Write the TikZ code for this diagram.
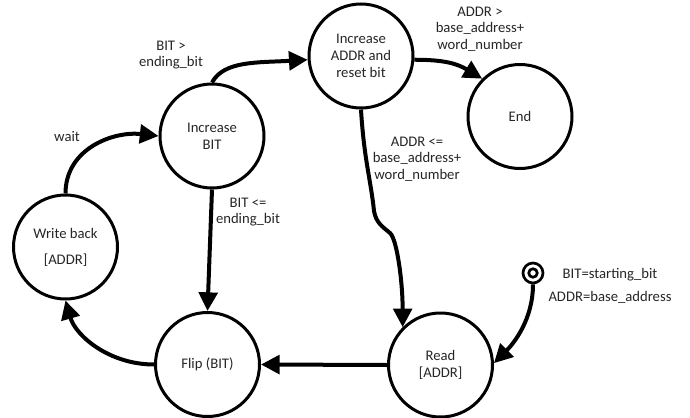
\documentclass[tikz,border=0pt]{standalone}
\usepackage{fontspec}
\setmainfont{Carlito}
\usetikzlibrary{arrows.meta}
\begin{document}
\begin{tikzpicture}[x=0.75pt,y=-0.75pt,
  every node/.style={font=\fontsize{11}{12.5}\selectfont,text=black!85},
  state/.style={circle,draw=black,line width=2.25pt,minimum size=78pt,inner sep=0pt,align=center},
  trans/.style={line width=3pt,-{Triangle[length=14pt,width=14pt]}},
  lbl/.style={align=center,inner sep=0pt}]
\useasboundingbox (0,0) rectangle (690,418);

% states
\node[state] (bit)  at (212,136)   {Increase\\BIT};
\node[state] (addr) at (361,56)    {Increase\\ADDR and\\reset bit};
\node[state] (end)  at (520,116.5) {End};
\node[state] (wb)   at (65.5,247)  {Write back\\[7pt]{[ADDR]}};
\node[state] (flip) at (207.5,364.5) {Flip (BIT)};
\node[state] (read) at (440.5,365) {Read\\{[ADDR]}};

% initial state marker
\node[circle,draw=black,line width=2pt,minimum size=15pt,inner sep=0pt] (init) at (533,273) {};
\draw[line width=2pt] (init.center) circle[radius=3.2pt];

% transitions
\draw[trans] (bit.north) .. controls +(12,-22) and +(-50,3) .. (addr.184);
\draw[trans] (wb.north) .. controls +(0,-45) and +(-45,-5) .. (bit.west);
\draw[trans] (bit.south) -- (flip.north);
\draw[trans] (read.west) -- (flip.east);
\draw[trans] (flip.west) .. controls +(-45,0) and +(10,35) .. (wb.south);
\draw[trans] (addr.-4) .. controls +(30,0) and +(-25,-15) .. (end.135);
\coordinate (b1) at (374,211);
\coordinate (b2) at (390,233);
\draw[trans] (addr.south) .. controls +(3,50) and +(-3,-30) .. (b1)
  .. controls +(2,12) and +(-7,-6) .. (b2)
  .. controls +(7,6) and +(0,-45) .. (read.135);
\draw[trans] (init.south) .. controls +(0,35) and +(20,-20) .. (read.2);

% transition labels
\node[lbl] (l1) at (171,55)  {BIT >\\ending\_bit};
\node[lbl] (l2) at (67,137)  {wait};
\node[lbl] (l3) at (248,212) {BIT <=\\ending\_bit};
\node[lbl] (l4) at (480,29)  {ADDR >\\base\_address+\\word\_number};
\node[lbl] (l5) at (417,159) {ADDR <=\\base\_address+\\word\_number};
\node[lbl] (l6) at (610,275) {BIT=starting\_bit};
\node[lbl] (l7) at (610,297) {ADDR=base\_address};
\end{tikzpicture}
\end{document}
